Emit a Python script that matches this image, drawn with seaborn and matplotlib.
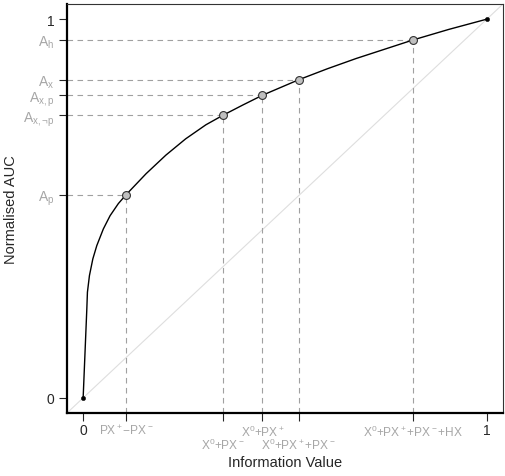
import matplotlib
matplotlib.use("Agg")
import matplotlib.pyplot as plt
import seaborn as sns
import pandas as pd

# curve
curve_x = [0, 0.0091, 0.0106, 0.0156, 0.024, 0.0338, 0.050, 0.0667, 0.0872, 0.106,
           0.156, 0.205, 0.254, 0.304, 0.346, 0.395, 0.444, 0.534, 0.605, 0.676,
           0.817, 0.906, 1.0]
curve_y = [0, 0.235, 0.279, 0.323, 0.367, 0.402, 0.446, 0.481, 0.513, 0.536,
           0.592, 0.641, 0.684, 0.721, 0.746, 0.773, 0.799, 0.840, 0.869, 0.896,
           0.945, 0.973, 1.0]

# marked points
pt_x = [0.106, 0.346, 0.444, 0.534, 0.817]
pt_y = [0.536, 0.746, 0.799, 0.840, 0.945]
y_names = [r"A$_\mathrm{p}$", r"A$_\mathrm{x,¬p}$", r"A$_\mathrm{x,p}$",
           r"A$_\mathrm{x}$", r"A$_\mathrm{h}$"]
x_names = ["PX$^+$\u2212PX$^-$", "X$^0$+PX$^-$", "X$^0$+PX$^+$",
           "X$^0$+PX$^+$+PX$^-$", "X$^0$+PX$^+$+PX$^-$+HX"]
x_low = [False, True, False, True, False]

sns.set_style("white")
plt.rcParams["font.family"] = ["Liberation Sans", "DejaVu Sans"]
plt.rcParams["mathtext.fontset"] = "custom"
plt.rcParams["mathtext.rm"] = "Liberation Sans"
plt.rcParams["mathtext.it"] = "Liberation Sans:italic"
plt.rcParams["mathtext.bf"] = "Liberation Sans:bold"

GREY = "#a6a6a6"
DASH = "#a0a0a0"

fig = plt.figure(figsize=(5.06, 4.77), dpi=100)
ax = fig.add_axes([67 / 506, 1 - 414 / 477, 436 / 506, 409 / 477])
ax.set_xlim(-0.04, 1.04)
ax.set_ylim(-0.04, 1.04)

# diagonal reference
ax.plot([-0.04, 1.04], [-0.04, 1.04], color="#dedede", lw=0.8, zorder=1)

# dashed guide lines
for x, y in zip(pt_x, pt_y):
    ax.plot([-0.04, x], [y, y], color=DASH, lw=0.8, ls=(0, (5, 4)), zorder=2)
    ax.plot([x, x], [-0.04, y], color=DASH, lw=0.8, ls=(0, (5, 4)), zorder=2)

df = pd.DataFrame({"x": curve_x, "y": curve_y})
sns.lineplot(data=df, x="x", y="y", ax=ax, color="black", lw=1.0,
             sort=False, estimator=None, zorder=3)
ends = pd.DataFrame({"x": [curve_x[0], curve_x[-1]], "y": [curve_y[0], curve_y[-1]]})
sns.scatterplot(data=ends, x="x", y="y", ax=ax, color="black", s=10,
                edgecolor="black", zorder=4)
pts = pd.DataFrame({"x": pt_x, "y": pt_y})
sns.scatterplot(data=pts, x="x", y="y", ax=ax, color="#c0c0c0", s=32,
                edgecolor="#333333", linewidth=0.8, zorder=5)

# y ticks
yt = [0] + pt_y + [1]
ax.set_yticks(yt)
ax.set_yticklabels(["0"] + y_names + ["1"], fontsize=10)
ax.tick_params(axis="y", length=6, width=0.8, pad=3, direction="out", left=True)
for i, t in enumerate(ax.yaxis.get_major_ticks()):
    if 0 < i < len(yt) - 1:
        t.tick1line.set_color(DASH)
        t.label1.set_color(GREY)

# x ticks
xt = [0] + pt_x + [1]
ax.set_xticks(xt)
ax.set_xticklabels(["0"] + x_names + ["1"], fontsize=10)
ax.tick_params(axis="x", length=6, width=0.8, pad=1.5, direction="out", bottom=True)
for i, t in enumerate(ax.xaxis.get_major_ticks()):
    if 0 < i < len(xt) - 1:
        t.tick1line.set_color(DASH)
        t.label1.set_color(GREY)
        t.label1.set_fontsize(8.6)
        if x_low[i - 1]:
            t.tick1line.set_markersize(15.5)
            t.set_pad(1.5 + 9.5)

ax.set_xlabel("Information Value", fontsize=10.5, labelpad=2.5)
ax.set_ylabel("Normalised AUC", fontsize=10.5)
ax.yaxis.set_label_coords(-0.112, 0.5)

for side in ["left", "bottom"]:
    ax.spines[side].set_linewidth(1.6)
    ax.spines[side].set_color("black")
for side in ["top", "right"]:
    ax.spines[side].set_linewidth(0.8)
    ax.spines[side].set_color("#333333")

fig.savefig("out.png", dpi=100)
